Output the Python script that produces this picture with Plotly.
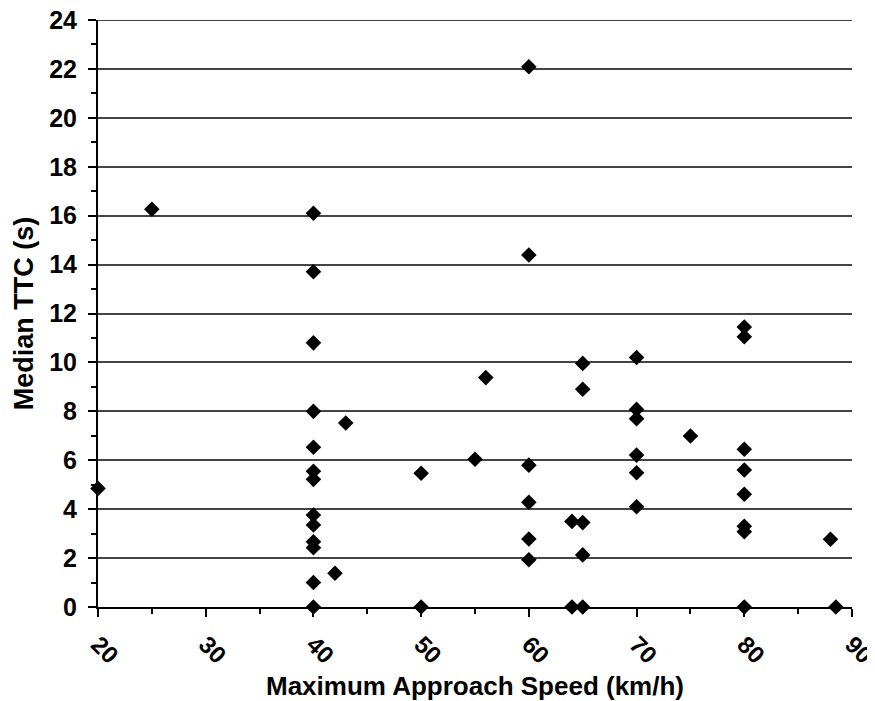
import plotly.graph_objects as go

# Maximum approach speed (km/h)
speed = [20, 25,
         40, 40, 40, 40, 40, 40, 40, 40, 40, 40, 40, 40, 40,
         42, 43, 50, 50, 55, 56,
         60, 60, 60, 60, 60, 60,
         64, 64,
         65, 65, 65, 65, 65,
         70, 70, 70, 70, 70, 70,
         75,
         80, 80, 80, 80, 80, 80, 80, 80,
         88, 88.5]

# Median TTC (s)
ttc = [4.85, 16.26,
       16.1, 13.71, 10.8, 8.0, 6.53, 5.55, 5.22, 3.76, 3.35, 2.67, 2.42, 1.0, 0.0,
       1.38, 7.52, 5.47, 0.0, 6.04, 9.38,
       22.09, 14.39, 5.8, 4.28, 2.78, 1.93,
       3.5, 0.0,
       9.96, 8.9, 3.45, 2.13, 0.0,
       10.2, 8.08, 7.7, 6.21, 5.49, 4.1,
       6.99,
       11.45, 11.05, 6.45, 5.6, 4.61, 3.3, 3.08, 0.0,
       2.77, 0.0]

x_ticks = [20, 30, 40, 50, 60, 70, 80, 90]
y_ticks = [0, 2, 4, 6, 8, 10, 12, 14, 16, 18, 20, 22, 24]

x_title = "Maximum Approach Speed (km/h)"
y_title = "Median TTC (s)"

FONT = "Liberation Sans, Arial, sans-serif"

fig = go.Figure()
fig.add_trace(go.Scatter(
    x=speed, y=ttc, mode="markers",
    marker=dict(symbol="diamond", size=12, color="black", line=dict(width=0)),
    cliponaxis=False, showlegend=False,
))

# top gridline at the upper end of the y range
fig.add_hline(y=y_ticks[-1], line=dict(color="#444444", width=1.8), layer="below")

fig.update_layout(
    width=875, height=693,
    margin=dict(l=90, r=31, t=12, b=94),
    paper_bgcolor="white", plot_bgcolor="white",
    font=dict(family=FONT, color="black"),
)

fig.update_xaxes(
    range=[20, 90], tickvals=x_ticks, ticktext=[str(v) for v in x_ticks],
    tickangle=45, tickfont=dict(size=24, family=FONT, weight="bold", color="black"),
    ticklabelstandoff=4, ticklabeloverflow="allow",
    showline=True, linecolor="black", linewidth=2,
    ticks="outside", ticklen=8, tickwidth=2, tickcolor="black",
    minor=dict(dtick=5, tick0=20, ticks="outside", ticklen=5, tickwidth=1.5, tickcolor="black", showgrid=False),
    showgrid=False, zeroline=False, automargin=False,
    title=dict(text=x_title, font=dict(size=26, family=FONT, weight="bold"), standoff=15),
)

fig.update_yaxes(
    range=[0, 24], tickvals=y_ticks, ticktext=[str(v) for v in y_ticks],
    tickfont=dict(size=25, family=FONT, weight="bold", color="black"),
    ticklabelstandoff=6, ticklabeloverflow="allow",
    showline=True, linecolor="black", linewidth=2,
    ticks="outside", ticklen=8, tickwidth=2, tickcolor="black",
    minor=dict(dtick=1, tick0=0, ticks="outside", ticklen=5, tickwidth=1.5, tickcolor="black", showgrid=False),
    showgrid=True, gridcolor="#444444", gridwidth=1.8, zeroline=False, automargin=False,
    title=dict(text=y_title, font=dict(size=27, family=FONT, weight="bold"), standoff=8),
)

fig.write_html("out.html")
